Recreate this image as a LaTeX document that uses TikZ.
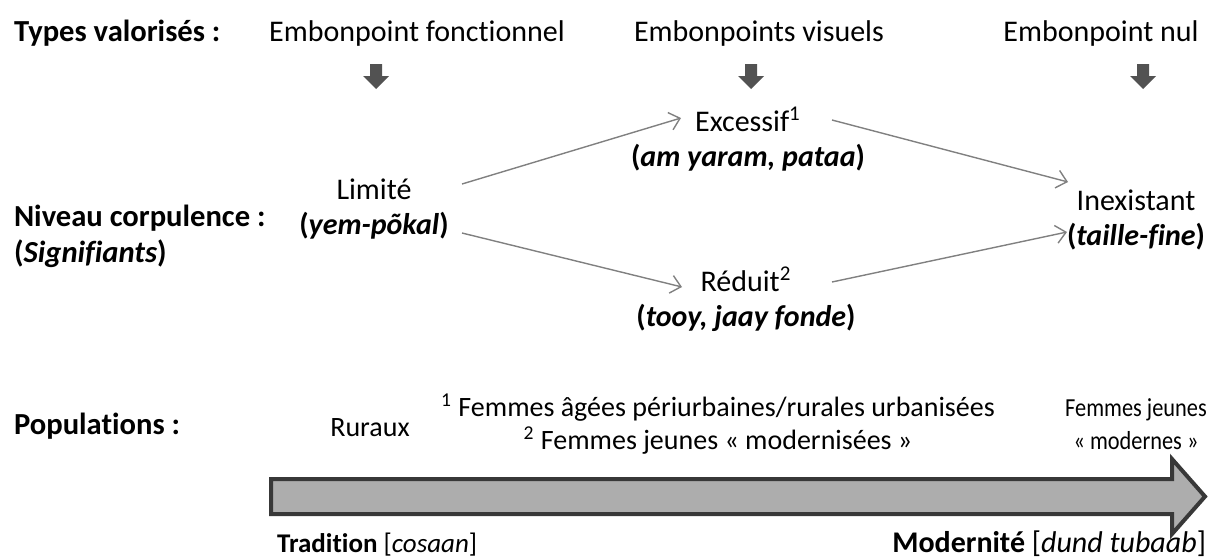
\documentclass[tikz,border=0pt]{standalone}
\usepackage{fontspec}
\setmainfont{Carlito}[Ligatures=NoCommon]
\usetikzlibrary{arrows.meta}

\begin{document}
\begin{tikzpicture}[x=0.5pt,y=-0.5pt,>={Straight Barb[length=5pt,width=9pt]},
          every node/.style={font=\fontsize{15}{17.5}\selectfont},
          head node/.style={anchor=west,align=left,font=\fontsize{15.3}{18}\selectfont\bfseries},
          term node/.style={align=center},
          pop node/.style={align=center,font=\fontsize{14}{16.5}\selectfont},
          conn/.style={->,draw=black!50,line width=0.7pt},
          typearrow/.style={fill=black!68},
          bigarrow/.style={fill=black!32,draw=black!78,line width=2pt}]
        \useasboundingbox (0,0) rectangle (1209,558);

        % types
        \node[head node] (types) at (7,33) {Types valorisés :};
        \node (fonc) at (417,33) {Embonpoint fonctionnel};
        \node (vis) at (759,33) {Embonpoints visuels};
        \node (nul) at (1101,33) {Embonpoint nul};
        \foreach \ax in {376,751,1143}
          \fill[typearrow] (\ax-6,64) -- (\ax+6,64) -- (\ax+6,76) -- (\ax+13,76)
            -- (\ax,89) -- (\ax-13,76) -- (\ax-6,76) -- cycle;

        % niveaux
        \node[head node] (niv) at (7,236) {Niveau corpulence :\\(\textit{Signifiants})};
        \node[term node] (lim) at (374,209) {Limité\\\textbf{(\textit{yem-põkal})}};
        \node[term node] (exc) at (748,139) {Excessif\textsuperscript{1}\\\textbf{(\textit{am yaram, pataa})}};
        \node[term node] (red) at (746,299) {Réduit\textsuperscript{2}\\\textbf{(\textit{tooy, jaay fonde})}};
        \node[term node] (inx) at (1136,220) {Inexistant\\\textbf{(\textit{taille-fine})}};

        \draw[conn] ([shift={(88,-25)}]lim.center) -- ([shift={(-67,-21)}]exc.center);
        \draw[conn] ([shift={(88,24)}]lim.center) -- ([shift={(-64,-12)}]red.center);
        \draw[conn] ([shift={(84,-19)}]exc.center) -- ([shift={(-68,-38)}]inx.center);
        \draw[conn] ([shift={(86,-17)}]red.center) -- ([shift={(-69,12)}]inx.center);

        % populations
        \node[head node] (pop) at (7,426) {Populations :};
        \node[pop node] (rur) at (370,428) {Ruraux};
        \node[pop node] (fem) at (718,424) {\textsuperscript{1} Femmes âgées périurbaines/rurales urbanisées\\\textsuperscript{2} Femmes jeunes « modernisées »};
        \node[pop node,font=\fontsize{13}{16.5}\selectfont,transform shape,xscale=0.86] (mdj) at (1136,424) {Femmes jeunes\\« modernes »};

        \draw[bigarrow] (271,479) -- (1172,479) -- (1172,459) -- (1205,496.5)
          -- (1172,534) -- (1172,514) -- (271,514) -- cycle;
        \node[anchor=west,font=\fontsize{13.5}{16}\selectfont] (trad) at (270,545) {\textbf{Tradition} [\textit{cosaan}]};
        \node[anchor=east] (mdn) at (1213,544) {\textbf{Modernité} [\textit{dund tubaab}]};
      \end{tikzpicture}
\end{document}
